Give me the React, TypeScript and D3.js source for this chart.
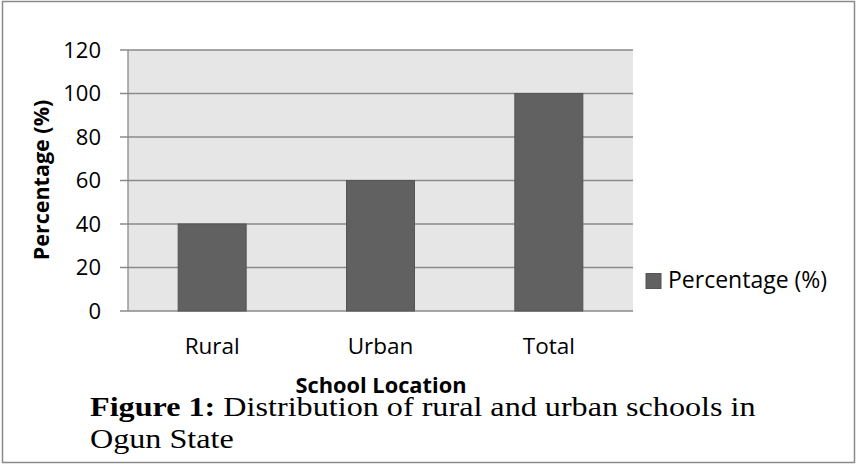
import React from 'react';
import * as d3 from 'd3';

// values
const categories = ['Rural', 'Urban', 'Total'];
const percentages = [40, 60, 100];
const yTicks = [0, 20, 40, 60, 80, 100, 120];
const seriesName = 'Percentage (%)';

const W = 857;
const H = 464;
const plot = { left: 128, right: 633, top: 50, bottom: 311 };

const sansFont = "'Open Sans', sans-serif";
const serifFont = "'Liberation Serif', 'Times New Roman', serif";

const App = () => {
    const x = d3.scaleBand<string>()
        .domain(categories)
        .range([plot.left, plot.right])
        .paddingInner(0.596)
        .paddingOuter(0.298);

    const y = d3.scaleLinear()
        .domain([0, 120])
        .range([plot.bottom, plot.top]);

    return (
        <svg width={W} height={H} style={{ position: 'absolute', left: 0, top: 0 }}>
            <rect x={0} y={0} width={W} height={H} fill="#fff" />
            {/* outer frame */}
            <rect x={2.5} y={1.5} width={W - 5} height={H - 3} fill="none" stroke="#8a8a8a" strokeWidth={1.5} />

            {/* plot background */}
            <rect x={plot.left} y={plot.top} width={plot.right - plot.left} height={plot.bottom - plot.top} fill="#e6e6e6" />

            {/* gridlines + ticks */}
            {yTicks.map(t => (
                <g key={t}>
                    <line x1={plot.left - 8} x2={plot.right} y1={y(t)} y2={y(t)} stroke="#8a8a8a" strokeWidth={1.3} />
                    <text x={101} y={y(t)} dy="0.36em" textAnchor="end" fontFamily={sansFont} fontSize={22} fill="#000">
                        {t}
                    </text>
                </g>
            ))}
            <line x1={plot.left} x2={plot.left} y1={plot.top} y2={plot.bottom} stroke="#8a8a8a" strokeWidth={1.3} />

            {/* bars */}
            {percentages.map((v, i) => (
                <rect
                    key={categories[i]}
                    x={x(categories[i])}
                    y={y(v)}
                    width={x.bandwidth()}
                    height={y(0) - y(v)}
                    fill="#616161"
                    stroke="#555"
                    strokeWidth={1}
                />
            ))}

            {/* category labels */}
            {categories.map(c => (
                <text key={c} x={(x(c) || 0) + x.bandwidth() / 2} y={354} textAnchor="middle" fontFamily={sansFont} fontSize={22.5} fill="#000">
                    {c}
                </text>
            ))}

            {/* axis titles */}
            <text x={381} y={393} textAnchor="middle" fontFamily={sansFont} fontSize={21.8} fontWeight="bold" fill="#000">
                School Location
            </text>
            <text transform="translate(49,180) rotate(-90)" textAnchor="middle" fontFamily={sansFont} fontSize={21.5} fontWeight="bold" fill="#000">
                Percentage (%)
            </text>

            {/* legend */}
            <rect x={646} y={273.5} width={15} height={15} fill="#616161" stroke="#555" strokeWidth={1} />
            <text x={668} y={288} fontFamily={sansFont} fontSize={23} fill="#000">{seriesName}</text>

            {/* caption (the source page is a little stretched sideways) */}
            <g transform="translate(90,0) scale(1.149,1)" fontFamily={serifFont} fontSize={28} fill="#000">
                <text x={0} y={416}>
                    <tspan fontWeight="bold">Figure 1:</tspan> Distribution of rural and urban schools in
                </text>
                <text x={0} y={448}>Ogun State</text>
            </g>
        </svg>
    );
};

export default App;
